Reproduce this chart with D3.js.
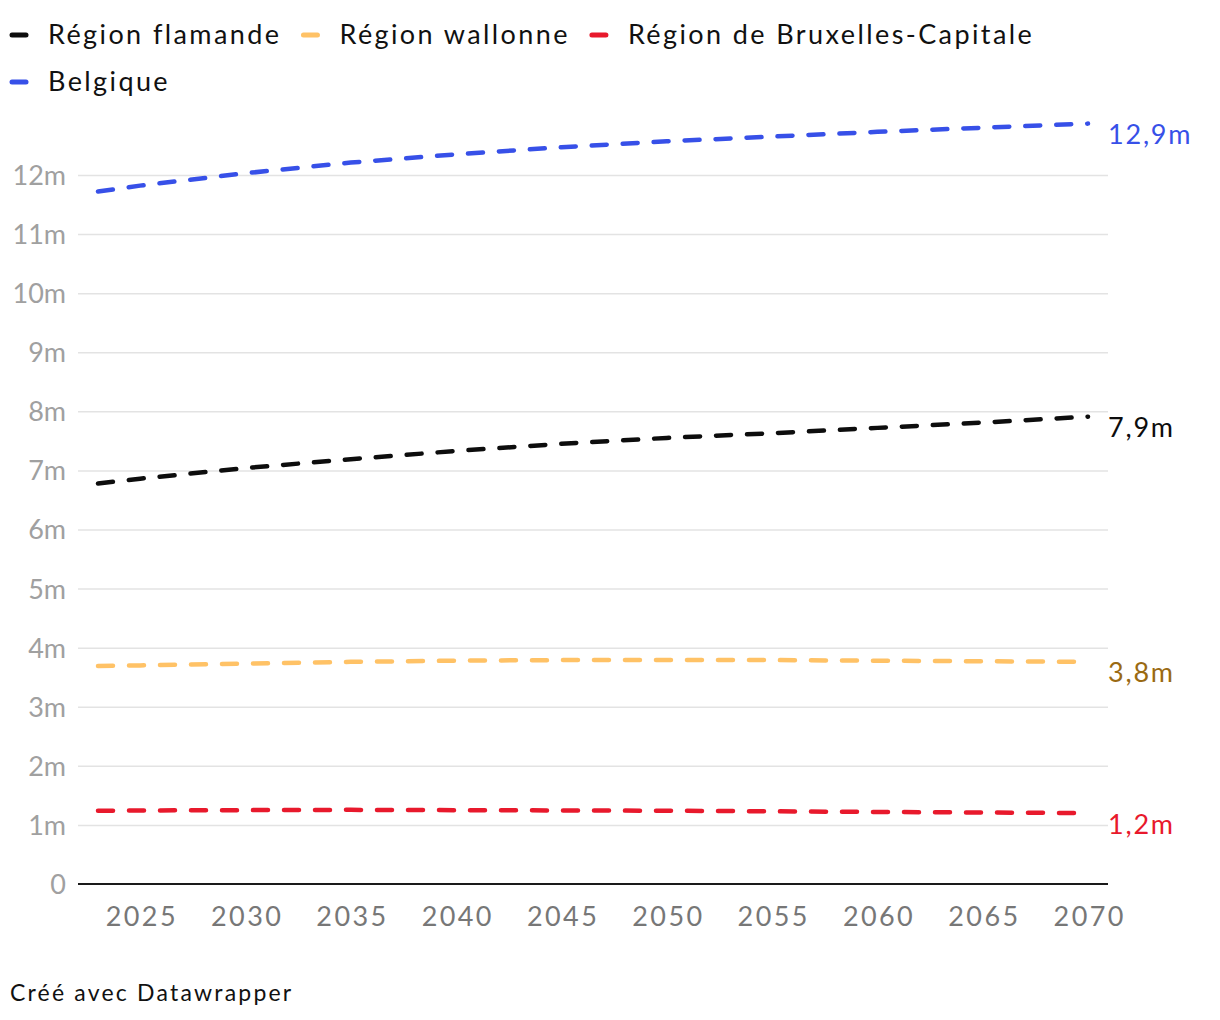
<!DOCTYPE html>
<html>
<head>
<meta charset="utf-8">
<script src="https://cdn.jsdelivr.net/npm/d3@7"></script>
<style>
  html, body { margin: 0; padding: 0; background: #fff; }
  svg { display: block; font-family: Lato, "Noto Sans", sans-serif; }
</style>
</head>
<body>
<svg id="chart" width="1220" height="1020"></svg>
<script>
// ---- data ----
const years = [2023, 2025, 2030, 2035, 2040, 2045, 2050, 2055, 2060, 2065, 2070];
const seriesNames = ["Région flamande", "Région wallonne", "Région de Bruxelles-Capitale", "Belgique"];
const flamande  = [6.78, 6.86, 7.04, 7.19, 7.33, 7.45, 7.55, 7.63, 7.72, 7.81, 7.91];
const wallonne  = [3.69, 3.70, 3.73, 3.76, 3.78, 3.79, 3.79, 3.79, 3.78, 3.77, 3.76];
const bruxelles = [1.24, 1.245, 1.25, 1.255, 1.25, 1.245, 1.24, 1.23, 1.22, 1.21, 1.20];
const belgique  = [11.72, 11.82, 12.03, 12.21, 12.35, 12.47, 12.57, 12.65, 12.73, 12.80, 12.87];
const endLabels = ["7,9m", "3,8m", "1,2m", "12,9m"];
const xTicks = [2025, 2030, 2035, 2040, 2045, 2050, 2055, 2060, 2065, 2070];
const yTicks = [0, 1, 2, 3, 4, 5, 6, 7, 8, 9, 10, 11, 12];
const lineColors  = ["#0d0d0d", "#ffc266", "#e8192c", "#3750e8"];
const labelColors = ["#0d0d0d", "#9a6a12", "#e8192c", "#3750e8"];
const legendRows = [[0, 1, 2], [3]];
const footer = "Créé avec Datawrapper";

const values = [flamande, wallonne, bruxelles, belgique];

// ---- layout ----
const svg = d3.select("#chart");
const x = d3.scaleLinear().domain([2023, 2070]).range([98, 1088]);
const y = d3.scaleLinear().domain([0, 12]).range([884, 175]);
const plotLeft = 78, plotRight = 1108;
const LS = 2.4; // letter spacing to mimic the wider original typeface

// gridlines
const gy = svg.append("g")
  .attr("transform", `translate(${plotLeft},0)`)
  .call(d3.axisLeft(y).tickValues(yTicks.filter(d => d > 0))
    .tickSize(-(plotRight - plotLeft)).tickFormat(""));
gy.select(".domain").remove();
gy.selectAll(".tick line").attr("stroke", "#e3e3e3").attr("stroke-width", 1.5);

// y labels
const yl = svg.append("g")
  .attr("transform", `translate(66,0)`)
  .call(d3.axisLeft(y).tickValues(yTicks).tickSize(0).tickPadding(0)
    .tickFormat(d => d === 0 ? "0" : d + "m"));
yl.select(".domain").remove();
yl.selectAll("text").attr("fill", "#a0a0a0").attr("font-size", 27)
  .attr("font-family", "Lato, sans-serif").attr("dy", "0.35em").attr("text-anchor", "end");

// baseline
svg.append("line").attr("x1", plotLeft).attr("x2", plotRight)
  .attr("y1", y(0)).attr("y2", y(0)).attr("stroke", "#1a1a1a").attr("stroke-width", 2);

// x labels
const xl = svg.append("g")
  .attr("transform", `translate(0,${y(0)})`)
  .call(d3.axisBottom(x).tickValues(xTicks).tickSize(0).tickPadding(0).tickFormat(d3.format("d")));
xl.select(".domain").remove();
xl.selectAll("text").attr("fill", "#777").attr("font-size", 27)
  .attr("font-family", "Lato, sans-serif").attr("dy", "1.55em")
  .attr("letter-spacing", LS).attr("dx", LS / 2);

// lines
const line = d3.line().x((d, i) => x(years[i])).y(d => y(d));
const order = [1, 2, 0, 3];
order.forEach(s => {
  svg.append("path").datum(values[s])
    .attr("d", line)
    .attr("fill", "none")
    .attr("stroke", lineColors[s])
    .attr("stroke-width", 4.5)
    .attr("stroke-linecap", "round")
    .attr("stroke-dasharray", "15 16");
});

// end labels
values.forEach((v, s) => {
  svg.append("text")
    .attr("x", plotRight)
    .attr("y", y(v[v.length - 1]) + 11)
    .attr("dy", "0.35em")
    .attr("fill", labelColors[s])
    .attr("font-size", 27)
    .attr("letter-spacing", 1.8)
    .text(endLabels[s]);
});

// legend
legendRows.forEach((row, r) => {
  let cx = 10;
  const cy = 35 + r * 47;
  row.forEach(s => {
    svg.append("line").attr("x1", cx + 2).attr("x2", cx + 16)
      .attr("y1", cy).attr("y2", cy)
      .attr("stroke", lineColors[s]).attr("stroke-width", 5).attr("stroke-linecap", "round");
    const t = svg.append("text").attr("x", cx + 38).attr("y", cy).attr("dy", "0.35em")
      .attr("fill", "#111").attr("font-size", 27).attr("letter-spacing", LS).text(seriesNames[s]);
    cx = cx + 38 + t.node().getComputedTextLength() + 20;
  });
});

// footer
svg.append("text").attr("x", 10).attr("y", 993).attr("dy", "0.35em")
  .attr("fill", "#111").attr("font-size", 23).attr("letter-spacing", 2.2).text(footer);
</script>
</body>
</html>
